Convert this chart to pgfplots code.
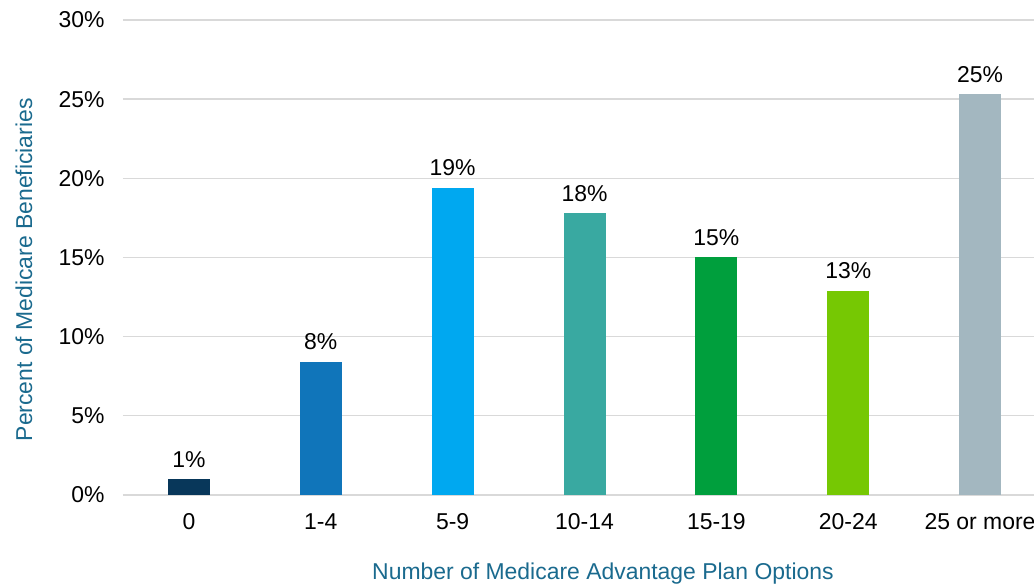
\documentclass[border=0pt]{standalone}
\usepackage{pgfplots}
\pgfplotsset{compat=1.18}
\usepackage{fontspec}
\setmainfont{Liberation Sans}
\definecolor{c0}{HTML}{08375A}
\definecolor{c1}{HTML}{1075BA}
\definecolor{c2}{HTML}{00A8F0}
\definecolor{c3}{HTML}{39A9A1}
\definecolor{c4}{HTML}{009F3D}
\definecolor{c5}{HTML}{76C803}
\definecolor{c6}{HTML}{A3B7C0}
\definecolor{ttl}{HTML}{1A6A8E}
\definecolor{grd}{HTML}{D9D9D9}
\begin{document}
\fontsize{17.2}{20}\selectfont
\begin{tikzpicture}
\begin{axis}[
  name=ax,
  scale only axis,
  width=692.25pt, height=356.25pt,
  xmin=-0.5, xmax=6.5,
  ymin=0, ymax=30,
  ytick={0,5,10,15,20,25,30},
  xtick={0,1,2,3,4,5,6},
  xticklabels={0,1-4,5-9,10-14,15-19,20-24,25 or more},
  yticklabel={\pgfmathprintnumber{\tick}\%},
  /pgf/number format/assume math mode=true,
  ymajorgrids,
  major grid style={color=grd, line width=1pt},
  axis x line*=bottom,
  axis y line*=left,
  y axis line style={draw=none},
  x axis line style={color=grd, line width=1pt, -},
  major tick length=0pt,
  tick label style={font=\fontsize{17.2}{20}\selectfont, text=black},
  xticklabel style={yshift=-8pt},
  yticklabel style={xshift=-8pt},
  ytick style={draw=none},
  xtick style={draw=none},
  ybar, bar width=31.5pt, bar shift=0pt,
  every axis plot/.append style={draw=none},
  nodes near coords={\pgfmathprintnumber[fixed,precision=0]{\pgfplotspointmeta}\%},
  every node near coord/.append style={font=\fontsize{17.2}{20}\selectfont, text=black, yshift=3pt},
  xlabel={Number of Medicare Advantage Plan Options},
  ylabel={Percent of Medicare Beneficiaries},
  xlabel style={at={(axis description cs:0.52,0)}, anchor=center, yshift=-59pt, text=ttl, font=\fontsize{17.2}{20}\selectfont},
  ylabel style={at={(axis description cs:-0.1073,0.474)}, anchor=center, text=ttl, font=\fontsize{17.2}{20}\selectfont},
  clip=false,
]
\addplot[fill=c0] coordinates {(0,1.0)};
\addplot[fill=c1] coordinates {(1,8.4)};
\addplot[fill=c2] coordinates {(2,19.4)};
\addplot[fill=c3] coordinates {(3,17.8)};
\addplot[fill=c4] coordinates {(4,15.0)};
\addplot[fill=c5] coordinates {(5,12.9)};
\addplot[fill=c6] coordinates {(6,25.3)};
\end{axis}
\pgfresetboundingbox
\path (ax.south west) ++(-92.25pt,-66.75pt) rectangle ++(775.5pt,438pt);
\end{tikzpicture}
\end{document}
